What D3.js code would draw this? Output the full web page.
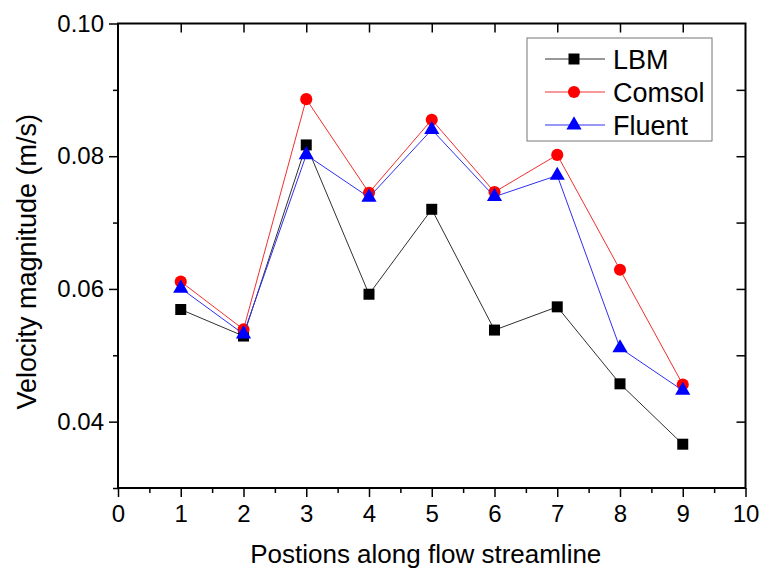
<!DOCTYPE html>
<html>
<head>
<meta charset="utf-8">
<script src="https://cdn.jsdelivr.net/npm/d3@7"></script>
<style>
  body { margin: 0; background: #fff; }
  svg { display: block; font-family: "Liberation Sans", Arial, sans-serif; }
</style>
</head>
<body>
<svg id="chart" width="762" height="572"></svg>
<script>
// ---- data ----
const positions = [1, 2, 3, 4, 5, 6, 7, 8, 9];
const lbm    = [0.0569, 0.0529, 0.0817, 0.0592, 0.0720, 0.0538, 0.0573, 0.0457, 0.0366];
const comsol = [0.0611, 0.0539, 0.0886, 0.0745, 0.0855, 0.0746, 0.0802, 0.0629, 0.0456];
const fluent = [0.0601, 0.0532, 0.0802, 0.0738, 0.0840, 0.0739, 0.0771, 0.0511, 0.0447];
const seriesNames = ["LBM", "Comsol", "Fluent"];
const xTicks = [0, 1, 2, 3, 4, 5, 6, 7, 8, 9, 10];
const yTicks = [0.04, 0.06, 0.08, 0.10];
const xLabel = "Postions along flow streamline";
const yLabel = "Velocity magnitude (m/s)";

const svg = d3.select("#chart");
const L = 118, R = 745.5, T = 23.5, B = 488;

const x = d3.scaleLinear().domain([0, 10]).range([L, R]);
const y = d3.scaleLinear().domain([0.03, 0.10]).range([B, T]);

const tickFont = 24;

// bottom axis
const gB = svg.append("g").attr("transform", `translate(0,${B})`);
gB.call(d3.axisBottom(x).tickValues(d3.range(0.5, 10, 1)).tickSize(5).tickFormat(""));
gB.call(g => g.selectAll(".domain").remove());
const gB2 = svg.append("g").attr("transform", `translate(0,${B})`);
gB2.call(d3.axisBottom(x).tickValues(xTicks).tickSize(9).tickPadding(8).tickFormat(d3.format("d")));
gB2.selectAll("text").attr("font-size", tickFont).attr("fill", "#000").attr("font-family", "Liberation Sans, Arial, sans-serif");
gB2.select(".domain").remove();

// left axis
const gL = svg.append("g").attr("transform", `translate(${L},0)`);
gL.call(d3.axisLeft(y).tickValues([0.03, 0.05, 0.07, 0.09]).tickSize(5).tickFormat(""));
gL.select(".domain").remove();
const gL2 = svg.append("g").attr("transform", `translate(${L},0)`);
gL2.call(d3.axisLeft(y).tickValues(yTicks).tickSize(9).tickPadding(5).tickFormat(d3.format(".2f")));
gL2.selectAll("text").attr("font-size", tickFont).attr("fill", "#000").attr("font-family", "Liberation Sans, Arial, sans-serif");
gL2.select(".domain").remove();

// top axis (inward ticks)
const gT = svg.append("g").attr("transform", `translate(0,${T})`);
gT.call(d3.axisTop(x).tickValues(d3.range(1, 10, 1)).tickSize(-9).tickFormat(""));
gT.select(".domain").remove();

// right axis (inward ticks)
const gR = svg.append("g").attr("transform", `translate(${R},0)`);
gR.call(d3.axisRight(y).tickValues([0.04, 0.05, 0.06, 0.07, 0.08, 0.09]).tickSize(-9).tickFormat(""));
gR.select(".domain").remove();

svg.selectAll(".tick line").attr("stroke", "#000").attr("stroke-width", 1.5);

// frame
svg.append("rect").attr("x", L).attr("y", T).attr("width", R - L).attr("height", B - T)
  .attr("fill", "none").attr("stroke", "#000").attr("stroke-width", 2);

// series
const series = [
  { name: seriesNames[0], values: lbm,    line: "#303030", fill: "#000000", shape: d3.symbolSquare,   size: 121 },
  { name: seriesNames[1], values: comsol, line: "#f03030", fill: "#ff0000", shape: d3.symbolCircle,   size: 115 },
  { name: seriesNames[2], values: fluent, line: "#3030f0", fill: "#0000ff", shape: d3.symbolTriangle, size: 100 }
];

const lineGen = d3.line().x((d, i) => x(positions[i])).y(d => y(d));

series.forEach(s => {
  svg.append("path").datum(s.values).attr("d", lineGen)
    .attr("fill", "none").attr("stroke", s.line).attr("stroke-width", 1);
  svg.append("g").selectAll("path").data(s.values).join("path")
    .attr("transform", (d, i) => `translate(${x(positions[i])},${y(d)})`)
    .attr("d", d3.symbol().type(s.shape).size(s.size))
    .attr("fill", s.fill);
});

// legend
const leg = svg.append("g");
leg.append("rect").attr("x", 527).attr("y", 38).attr("width", 185).attr("height", 103)
  .attr("fill", "#fff").attr("stroke", "#777").attr("stroke-width", 1);
series.forEach((s, i) => {
  const cy = 59 + i * 33;
  leg.append("line").attr("x1", 545).attr("x2", 605).attr("y1", cy).attr("y2", cy)
    .attr("stroke", s.line).attr("stroke-width", 1);
  leg.append("path").attr("transform", `translate(574,${cy})`)
    .attr("d", d3.symbol().type(s.shape).size(s.size)).attr("fill", s.fill);
  leg.append("text").attr("x", 613).attr("y", cy + 10).attr("font-size", 27).attr("fill", "#000")
    .text(s.name);
});

// axis titles
svg.append("text").attr("x", (L + R) / 2 - 6).attr("y", 563).attr("text-anchor", "middle")
  .attr("font-size", 26).attr("fill", "#000").text(xLabel);
svg.append("text").attr("transform", `translate(36,${(T + B) / 2 + 6}) rotate(-90)`)
  .attr("text-anchor", "middle").attr("font-size", 27).attr("fill", "#000").text(yLabel);
</script>
</body>
</html>
